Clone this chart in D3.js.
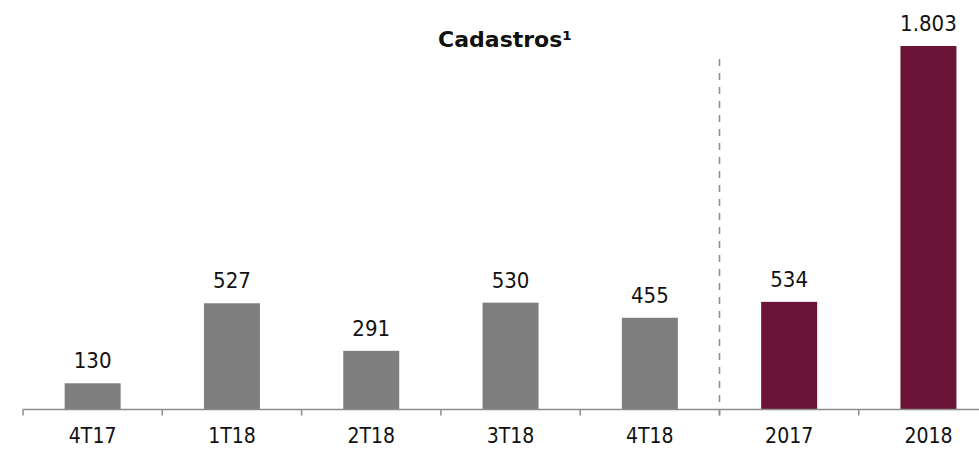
<!DOCTYPE html>
<html>
<head>
<meta charset="utf-8">
<script src="https://cdn.jsdelivr.net/npm/d3@7"></script>
<style>
  body { margin: 0; background: #fff; }
  svg { display: block; font-family: "DejaVu Sans Condensed", "DejaVu Sans", sans-serif; }
</style>
</head>
<body>
<svg id="chart" width="979" height="449"></svg>
<script>
const categories = ["4T17", "1T18", "2T18", "3T18", "4T18", "2017", "2018"];
const values = [130, 527, 291, 530, 455, 534, 1803];
const labels = ["130", "527", "291", "530", "455", "534", "1.803"];
const annual = ["2017", "2018"];

const width = 979, height = 449;
const baseY = 409.5;
const svg = d3.select("#chart");

// category bands: 139.3px step starting at x=23, the last band runs off the edge
const x = d3.scaleBand().domain(categories).range([23, 23 + 139.3 * 7]).paddingInner(0).paddingOuter(0);
const barW = 56;
const y = d3.scaleLinear().domain([0, 1803]).range([baseY, 46]);

const data = categories.map((c, i) => ({ cat: c, value: values[i], label: labels[i] }));

svg.append("text")
  .attr("x", 505).attr("y", 47)
  .attr("text-anchor", "middle")
  .attr("font-family", "DejaVu Sans")
  .attr("font-size", 22).attr("font-weight", "bold").attr("fill", "#111")
  .text("Cadastros¹");

svg.selectAll("rect.bar").data(data).join("rect")
  .attr("class", "bar")
  .attr("x", d => x(d.cat) + x.bandwidth() / 2 - barW / 2)
  .attr("width", barW)
  .attr("y", d => y(d.value))
  .attr("height", d => baseY - y(d.value))
  .attr("fill", d => annual.includes(d.cat) ? "#6b1438" : "#7f7f7f");

svg.selectAll("text.val").data(data).join("text")
  .attr("class", "val")
  .attr("x", d => x(d.cat) + x.bandwidth() / 2)
  .attr("y", d => y(d.value) - 15)
  .attr("text-anchor", "middle")
  .attr("font-size", 22).attr("fill", "#111")
  .text(d => d.label);

// x axis line with ticks at band boundaries
const axis = svg.append("g");
axis.append("line")
  .attr("x1", 23).attr("x2", width)
  .attr("y1", baseY).attr("y2", baseY)
  .attr("stroke", "#8c8c8c").attr("stroke-width", 1.5);
axis.selectAll("line.tick").data(categories).join("line")
  .attr("class", "tick")
  .attr("x1", d => x(d)).attr("x2", d => x(d))
  .attr("y1", baseY).attr("y2", baseY + 6)
  .attr("stroke", "#8c8c8c").attr("stroke-width", 1.5);
axis.selectAll("text.cat").data(categories).join("text")
  .attr("class", "cat")
  .attr("x", d => x(d) + x.bandwidth() / 2)
  .attr("y", 443)
  .attr("text-anchor", "middle")
  .attr("font-size", 21).attr("fill", "#111")
  .text(d => d);

// dashed separator between quarters and years
const sepX = x(annual[0]);
svg.append("line")
  .attr("x1", sepX).attr("x2", sepX)
  .attr("y1", 59).attr("y2", baseY + 6)
  .attr("stroke", "#8f8f8f").attr("stroke-width", 1.6)
  .attr("stroke-dasharray", "7,7");
</script>
</body>
</html>
